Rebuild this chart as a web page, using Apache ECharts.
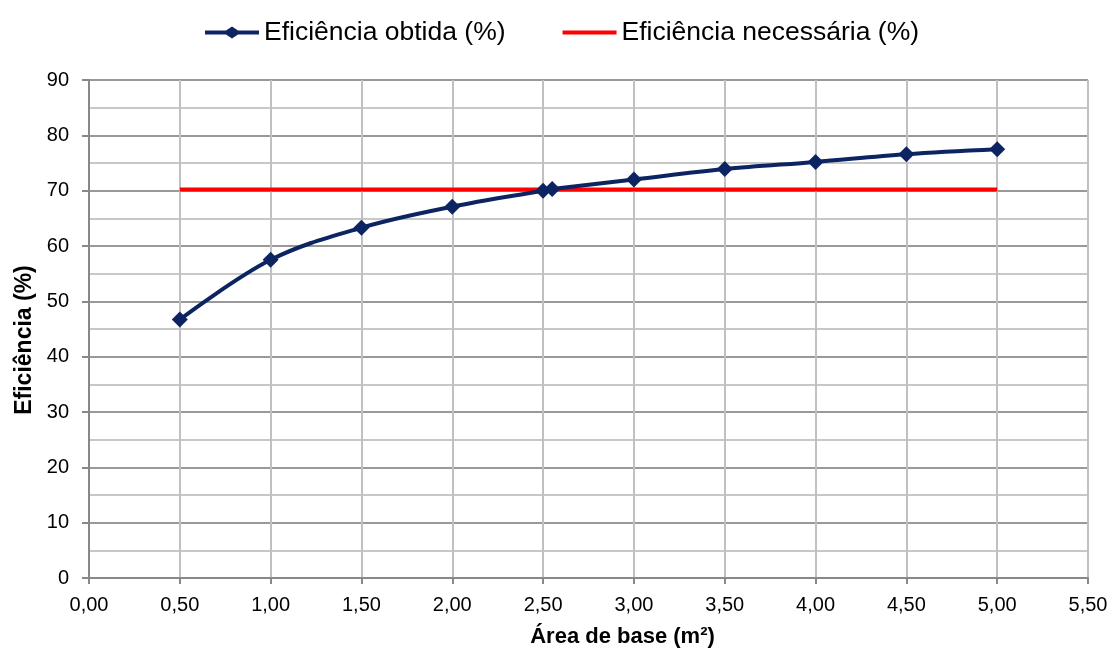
<!DOCTYPE html>
<html>
<head>
<meta charset="utf-8">
<script src="https://cdn.jsdelivr.net/npm/echarts@6/dist/echarts.min.js"></script>
<style>
  html, body { margin: 0; padding: 0; background: #ffffff; }
  #chart { width: 1112px; height: 652px; }
</style>
</head>
<body>
<div id="chart"></div>
<script>
// Base area (m²) tested and the efficiency obtained for each one
const areas = [0.5, 1.0, 1.5, 2.0, 2.5, 2.55, 3.0, 3.5, 4.0, 4.5, 5.0];
const eficienciaObtida = [46.7, 57.5, 63.3, 67.1, 70.0, 70.3, 72.0, 73.9, 75.2, 76.6, 77.5];

// Required efficiency, constant over the tested range
const areasNecessaria = [0.5, 5.0];
const eficienciaNecessaria = [70.2, 70.2];

// Axis ranges
const xMin = 0, xMax = 5.5, xStep = 0.5;
const yMin = 0, yMax = 90, yStep = 10;

const FONT = '"Liberation Sans", Arial, sans-serif';
const NAVY = '#0c2461';
const RED = '#ff0000';

// Legend icons: a thick line with a diamond in the middle, and a plain thick line.
// The stray move-to points keep both icons on the same 54x12 box.
const ICON_OBTIDA = 'path://M0,4 L21,4 L27,0 L33,4 L54,4 L54,8 L33,8 L27,12 L21,8 L0,8 Z';
const ICON_NECESSARIA = 'path://M0,0 M54,12 M0,4 L54,4 L54,8 L0,8 Z';

const chart = echarts.init(document.getElementById('chart'), null, { renderer: 'canvas' });

chart.setOption({
  animation: false,
  backgroundColor: '#ffffff',
  textStyle: { fontFamily: FONT },
  legend: {
    top: 14,
    left: 200,
    itemWidth: 54,
    itemHeight: 12,
    itemGap: 57,
    textStyle: { fontSize: 26.5, color: '#000000', fontFamily: FONT },
    data: [
      { name: 'Eficiência obtida (%)', icon: ICON_OBTIDA },
      { name: 'Eficiência necessária (%)', icon: ICON_NECESSARIA }
    ]
  },
  grid: { left: 89, right: 24, top: 80, bottom: 74, containLabel: false, outerBoundsMode: 'none' },
  xAxis: {
    type: 'value',
    min: xMin,
    max: xMax,
    interval: xStep,
    name: 'Área de base (m²)',
    nameLocation: 'middle',
    nameGap: 48,
    // title sits a little right of the plot centre
    nameTextStyle: {
      fontSize: 22, fontWeight: 'bold', color: '#000000', fontFamily: FONT,
      padding: [0, 0, 0, 68]
    },
    axisLine: { lineStyle: { color: '#888888', width: 2 } },
    axisTick: { show: true, length: 6, lineStyle: { color: '#888888', width: 2 } },
    axisLabel: {
      fontSize: 20, color: '#000000', margin: 17, fontFamily: FONT,
      formatter: v => v.toFixed(2).replace('.', ',')
    },
    splitLine: { show: true, lineStyle: { color: '#c0c0c0', width: 2 } }
  },
  yAxis: {
    type: 'value',
    min: yMin,
    max: yMax,
    interval: yStep,
    name: 'Eficiência (%)',
    nameLocation: 'middle',
    nameGap: 50,
    // title sits a little below the plot centre
    nameTextStyle: {
      fontSize: 23, fontWeight: 'bold', color: '#000000', fontFamily: FONT,
      padding: [0, 22, 0, 0]
    },
    axisLine: { show: true, lineStyle: { color: '#888888', width: 2 } },
    axisTick: { show: true, length: 7, lineStyle: { color: '#888888', width: 2 } },
    axisLabel: { fontSize: 20, color: '#000000', margin: 20, fontFamily: FONT },
    splitLine: { show: true, lineStyle: { color: '#999999', width: 2 } },
    minorTick: { show: false, splitNumber: 2 },
    minorSplitLine: { show: true, lineStyle: { color: '#c8c8c8', width: 2 } }
  },
  series: [
    {
      name: 'Eficiência necessária (%)',
      type: 'line',
      data: areasNecessaria.map((x, i) => [x, eficienciaNecessaria[i]]),
      showSymbol: false,
      symbol: 'none',
      lineStyle: { color: RED, width: 4 },
      itemStyle: { color: RED },
      z: 2
    },
    {
      name: 'Eficiência obtida (%)',
      type: 'line',
      data: areas.map((x, i) => [x, eficienciaObtida[i]]),
      smooth: 0.35,
      symbol: 'diamond',
      symbolSize: 16,
      lineStyle: { color: NAVY, width: 4 },
      itemStyle: { color: NAVY },
      z: 3
    }
  ]
});
</script>
</body>
</html>
